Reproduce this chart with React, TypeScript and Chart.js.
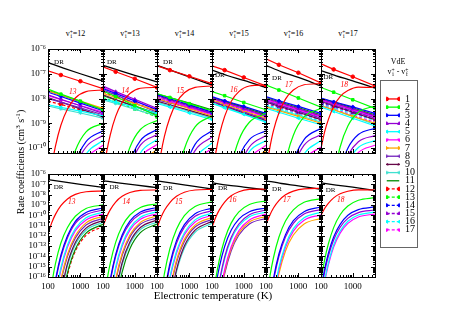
import React, { useEffect, useRef } from 'react';
import { Chart, registerables } from 'chart.js';

Chart.register(...registerables);

const FONT = "'Liberation Serif', 'Times New Roman', Times, serif";

// ---------- data ----------
const temperatureDR = [100, 300, 1000, 5000];
const temperatureVdE = [100, 250, 1000, 5000];
const temperatureVE = [100, 130, 170, 250, 400, 700, 1500, 5000];
const initialLevels = [12, 13, 14, 15, 16, 17];
const excitedLabels = ['13', '14', '15', '16', '17', '18'];
const legendLabels = ['1', '2', '3', '4', '5', '6', '7', '8', '9', '10', '11', '12', '13', '14', '15', '16', '17'];
const xTickValues = [100, 1000];
const xMinorTicks = [200, 300, 400, 500, 600, 700, 800, 900, 2000, 3000, 4000];
const yTicksTop = [1e-10, 1e-9, 1e-8, 1e-7, 1e-6];
const yTicksBottom = [1e-16, 1e-15, 1e-14, 1e-13, 1e-12, 1e-11, 1e-10, 1e-9, 1e-8, 1e-7, 1e-6];

const drV12 = [2.8e-7, 1.7e-7, 1.0e-7, 5.0e-8];
const drV13 = [2.2e-7, 1.4e-7, 8.7e-8, 4.7e-8];
const drV14 = [2.2e-7, 1.3e-7, 7.4e-8, 3.5e-8];
const drV15 = [1.4e-7, 8.5e-8, 5.4e-8, 2.8e-8];
const drV16 = [2.2e-7, 1.2e-7, 7.1e-8, 3.2e-8];
const drV17 = [1.35e-7, 8.3e-8, 5.2e-8, 2.6e-8];

const vdeV12 = [
  [1.3e-7, 8.9e-8, 5.0e-8, 2.5e-8],
  [2.4e-8, 1.5e-8, 7.8e-9, 3.5e-9],
  [1.8e-8, 1.2e-8, 6.5e-9, 3.2e-9],
  [1.4e-8, 9.3e-9, 5.1e-9, 2.5e-9],
  [5.6e-9, 4.4e-9, 3.1e-9, 2.0e-9],
  [1.3e-8, 8.9e-9, 5.2e-9, 2.8e-9],
  [2.0e-8, 1.4e-8, 7.8e-9, 4.0e-9],
  [1.0e-8, 7.1e-9, 4.2e-9, 2.2e-9],
  [1.1e-8, 7.2e-9, 3.8e-9, 1.8e-9],
  [5.0e-9, 3.8e-9, 2.6e-9, 1.6e-9],
  [2.1e-8, 1.4e-8, 7.4e-9, 3.5e-9],
  [7.9e-9, 5.8e-9, 3.5e-9, 2.0e-9],
];
const vdeV13 = [
  [1.9e-7, 1.2e-7, 6.3e-8, 2.8e-8],
  [2.0e-8, 1.2e-8, 5.1e-9, 2.0e-9],
  [2.5e-8, 1.6e-8, 7.9e-9, 3.5e-9],
  [3.2e-8, 1.9e-8, 9.3e-9, 4.0e-9],
  [1.0e-8, 7.2e-9, 4.5e-9, 2.5e-9],
  [2.8e-8, 1.7e-8, 8.3e-9, 3.5e-9],
  [1.6e-8, 1.1e-8, 6.2e-9, 3.2e-9],
  [2.2e-8, 1.4e-8, 6.6e-9, 2.8e-9],
  [1.4e-8, 9.1e-9, 4.8e-9, 2.2e-9],
  [8.9e-9, 6.3e-9, 3.7e-9, 2.0e-9],
  [1.3e-8, 8.7e-9, 4.9e-9, 2.5e-9],
  [1.8e-8, 1.2e-8, 6.5e-9, 3.2e-9],
  [1.1e-8, 7.2e-9, 3.8e-9, 1.8e-9],
];
const vdeV14 = [
  [2.1e-7, 1.4e-7, 7.9e-8, 4.0e-8],
  [1.6e-8, 1.1e-8, 6.2e-9, 3.2e-9],
  [1.4e-8, 9.8e-9, 5.5e-9, 2.8e-9],
  [1.3e-8, 8.7e-9, 4.9e-9, 2.5e-9],
  [6.3e-9, 4.5e-9, 2.6e-9, 1.4e-9],
  [1.1e-8, 7.8e-9, 4.4e-9, 2.2e-9],
  [1.0e-8, 6.9e-9, 3.9e-9, 2.0e-9],
  [8.9e-9, 6.6e-9, 4.3e-9, 2.5e-9],
  [7.9e-9, 5.6e-9, 3.3e-9, 1.8e-9],
  [7.1e-9, 5.0e-9, 3.0e-9, 1.6e-9],
  [1.5e-8, 1.1e-8, 6.5e-9, 3.5e-9],
  [1.3e-8, 9.1e-9, 5.4e-9, 2.8e-9],
  [1.2e-8, 8.7e-9, 5.5e-9, 3.2e-9],
  [1.0e-8, 7.1e-9, 4.4e-9, 2.4e-9],
];
const vdeV15 = [
  [2.1e-7, 1.4e-7, 7.1e-8, 3.2e-8],
  [1.9e-8, 1.3e-8, 6.9e-9, 3.5e-9],
  [1.2e-8, 8.1e-9, 4.8e-9, 2.5e-9],
  [1.05e-8, 7.1e-9, 4.0e-9, 2.0e-9],
  [6.3e-9, 4.2e-9, 2.3e-9, 1.1e-9],
  [1.0e-8, 6.6e-9, 3.6e-9, 1.8e-9],
  [8.9e-9, 5.9e-9, 3.2e-9, 1.6e-9],
  [7.9e-9, 5.2e-9, 2.9e-9, 1.4e-9],
  [7.6e-9, 5.0e-9, 2.6e-9, 1.3e-9],
  [6.6e-9, 4.5e-9, 2.4e-9, 1.2e-9],
  [1.1e-8, 7.8e-9, 4.4e-9, 2.2e-9],
  [1.1e-8, 7.2e-9, 4.1e-9, 2.1e-9],
  [9.5e-9, 6.9e-9, 4.3e-9, 2.4e-9],
  [8.5e-9, 6.0e-9, 3.5e-9, 1.9e-9],
  [7.1e-9, 4.9e-9, 2.9e-9, 1.5e-9],
];
const vdeV16 = [
  [4.0e-7, 2.3e-7, 1.1e-7, 4.3e-8],
  [3.5e-8, 2.2e-8, 1.05e-8, 4.5e-9],
  [1.2e-8, 8.1e-9, 4.8e-9, 2.5e-9],
  [1.0e-8, 6.9e-9, 3.9e-9, 2.0e-9],
  [4.0e-9, 2.8e-9, 1.6e-9, 8.7e-10],
  [8.9e-9, 6.2e-9, 3.5e-9, 1.8e-9],
  [4.5e-9, 3.2e-9, 1.9e-9, 1.0e-9],
  [7.9e-9, 5.5e-9, 3.1e-9, 1.6e-9],
  [7.1e-9, 4.9e-9, 2.8e-9, 1.4e-9],
  [5.0e-9, 3.5e-9, 2.1e-9, 1.1e-9],
  [1.1e-8, 7.4e-9, 4.3e-9, 2.2e-9],
  [9.5e-9, 6.6e-9, 3.7e-9, 1.9e-9],
  [8.3e-9, 6.0e-9, 3.7e-9, 2.1e-9],
  [7.6e-9, 5.4e-9, 3.1e-9, 1.7e-9],
  [6.3e-9, 4.5e-9, 2.6e-9, 1.4e-9],
  [5.6e-9, 3.9e-9, 2.3e-9, 1.2e-9],
];
const vdeV17 = [
  [2.5e-7, 1.5e-7, 7.6e-8, 3.2e-8],
  [2.8e-8, 1.8e-8, 8.9e-9, 4.0e-9],
  [1.05e-8, 7.4e-9, 4.6e-9, 2.5e-9],
  [9.5e-9, 6.6e-9, 3.8e-9, 2.0e-9],
  [4.5e-9, 3.0e-9, 1.6e-9, 7.9e-10],
  [8.9e-9, 6.2e-9, 3.5e-9, 1.8e-9],
  [5.0e-9, 3.5e-9, 1.9e-9, 1.0e-9],
  [8.3e-9, 5.6e-9, 3.2e-9, 1.6e-9],
  [7.6e-9, 5.1e-9, 2.8e-9, 1.4e-9],
  [5.2e-9, 3.5e-9, 1.9e-9, 8.9e-10],
  [1.0e-8, 7.1e-9, 4.2e-9, 2.2e-9],
  [9.1e-9, 6.5e-9, 3.7e-9, 2.0e-9],
  [7.9e-9, 5.8e-9, 3.6e-9, 2.1e-9],
  [7.2e-9, 5.1e-9, 3.0e-9, 1.7e-9],
  [6.6e-9, 4.7e-9, 2.7e-9, 1.4e-9],
  [6.0e-9, 4.2e-9, 2.4e-9, 1.3e-9],
  [5.5e-9, 3.8e-9, 2.1e-9, 1.1e-9],
];

const veV12 = [
  [1.5e-12, 1.8e-11, 1.2e-10, 8.3e-10, 3.8e-9, 1.05e-8, 1.9e-8, 2.2e-8],
  [7.9e-20, 2.0e-17, 2.0e-15, 2.0e-13, 6.3e-12, 7.9e-11, 4.5e-10, 1.0e-9],
  [null, 2.5e-19, 5.0e-17, 1.3e-14, 1.0e-12, 2.5e-11, 1.8e-10, 5.0e-10],
  [null, 1.6e-19, 3.2e-17, 7.9e-15, 6.3e-13, 1.6e-11, 1.1e-10, 3.2e-10],
  [null, null, 1.3e-18, 7.9e-16, 1.3e-13, 5.0e-12, 5.6e-11, 2.0e-10],
  [null, null, 7.9e-19, 5.0e-16, 7.9e-14, 3.2e-12, 3.5e-11, 1.3e-10],
  [null, null, 3.2e-20, 5.0e-17, 1.6e-14, 1.0e-12, 1.8e-11, 7.9e-11],
  [null, null, 2.0e-20, 3.2e-17, 1.0e-14, 6.3e-13, 1.1e-11, 5.0e-11],
  [null, null, null, 3.2e-18, 2.0e-15, 2.2e-13, 5.6e-12, 3.2e-11],
  [null, null, null, 2.0e-18, 1.3e-15, 1.4e-13, 3.5e-12, 2.0e-11],
  [null, null, null, 1.6e-19, 2.5e-16, 5.0e-14, 1.8e-12, 1.3e-11],
  [null, null, null, 1.0e-19, 1.6e-16, 3.2e-14, 1.1e-12, 7.9e-12],
];
const veV13 = [
  [8.3e-12, 6.8e-11, 3.5e-10, 1.9e-9, 6.8e-9, 1.6e-8, 2.6e-8, 2.8e-8],
  [9.3e-20, 2.8e-17, 2.3e-15, 2.3e-13, 8.5e-12, 1.05e-10, 5.6e-10, 1.3e-9],
  [null, 2.9e-19, 6.2e-17, 1.5e-14, 1.2e-12, 2.6e-11, 2.0e-10, 5.6e-10],
  [null, 1.8e-19, 3.9e-17, 9.8e-15, 7.6e-13, 1.6e-11, 1.3e-10, 3.5e-10],
  [null, null, 1.4e-18, 9.1e-16, 1.5e-13, 5.5e-12, 6.3e-11, 2.2e-10],
  [null, null, 8.9e-19, 5.8e-16, 9.5e-14, 3.5e-12, 4.0e-11, 1.4e-10],
  [null, null, 3.3e-20, 5.5e-17, 1.9e-14, 1.2e-12, 2.0e-11, 8.9e-11],
  [null, null, 2.1e-20, 3.5e-17, 1.2e-14, 7.4e-13, 1.3e-11, 5.6e-11],
  [null, null, null, 3.2e-18, 2.4e-15, 2.5e-13, 6.3e-12, 3.5e-11],
  [null, null, null, 2.0e-18, 1.5e-15, 1.6e-13, 4.0e-12, 2.2e-11],
  [null, null, null, 1.9e-19, 3.0e-16, 5.5e-14, 2.0e-12, 1.4e-11],
];
const veV14 = [
  [5.6e-12, 5.2e-11, 3.0e-10, 1.7e-9, 6.8e-9, 1.7e-8, 2.8e-8, 3.2e-8],
  [null, 1.0e-18, 2.2e-16, 5.5e-14, 4.3e-12, 9.1e-11, 7.1e-10, 2.0e-9],
  [null, null, 3.2e-18, 2.0e-15, 3.4e-13, 1.2e-11, 1.4e-10, 5.0e-10],
  [null, null, 1.8e-18, 1.1e-15, 1.9e-13, 6.9e-12, 7.9e-11, 2.8e-10],
  [null, null, 6.3e-20, 1.0e-16, 3.2e-14, 2.0e-12, 3.5e-11, 1.6e-10],
  [null, null, 4.0e-20, 6.3e-17, 2.0e-14, 1.3e-12, 2.2e-11, 1.0e-10],
  [null, null, null, 6.3e-18, 4.0e-15, 4.5e-13, 1.1e-11, 6.3e-11],
  [null, null, null, 4.0e-18, 2.5e-15, 2.8e-13, 7.1e-12, 4.0e-11],
  [null, null, null, 3.2e-19, 5.0e-16, 1.0e-13, 3.5e-12, 2.5e-11],
  [null, null, null, 2.0e-19, 3.2e-16, 6.3e-14, 2.2e-12, 1.6e-11],
];
const veV15 = [
  [6.3e-12, 5.9e-11, 3.3e-10, 1.9e-9, 7.6e-9, 1.9e-8, 3.2e-8, 3.5e-8],
  [1.9e-19, 5.5e-17, 4.7e-15, 4.6e-13, 1.7e-11, 2.1e-10, 1.1e-9, 2.5e-9],
  [3.7e-20, 1.1e-17, 9.3e-16, 9.1e-14, 3.4e-12, 4.2e-11, 2.2e-10, 5.0e-10],
  [null, 1.6e-19, 3.5e-17, 8.7e-15, 6.8e-13, 1.4e-11, 1.1e-10, 3.2e-10],
  [null, 1.0e-19, 2.2e-17, 5.5e-15, 4.3e-13, 9.1e-12, 7.1e-11, 2.0e-10],
  [null, null, 7.9e-19, 5.1e-16, 8.5e-14, 3.1e-12, 3.5e-11, 1.3e-10],
  [null, null, 5.0e-19, 3.2e-16, 5.4e-14, 1.9e-12, 2.2e-11, 7.9e-11],
  [null, null, 3.2e-19, 2.0e-16, 3.4e-14, 1.2e-12, 1.4e-11, 5.0e-11],
];
const veV16 = [
  [1.2e-11, 9.5e-11, 5.0e-10, 2.6e-9, 9.5e-9, 2.2e-8, 3.6e-8, 4.0e-8],
  [3.0e-19, 8.7e-17, 7.4e-15, 7.2e-13, 2.7e-11, 3.3e-10, 1.8e-9, 4.0e-9],
  [null, 3.2e-19, 6.9e-17, 1.7e-14, 1.3e-12, 2.9e-11, 2.2e-10, 6.3e-10],
  [null, 1.8e-19, 3.9e-17, 9.8e-15, 7.6e-13, 1.6e-11, 1.3e-10, 3.5e-10],
  [null, null, 1.3e-18, 8.1e-16, 1.3e-13, 4.9e-12, 5.6e-11, 2.0e-10],
  [null, null, 7.1e-19, 4.6e-16, 7.6e-14, 2.8e-12, 3.2e-11, 1.1e-10],
  [null, null, 3.2e-19, 2.0e-16, 3.4e-14, 1.2e-12, 1.4e-11, 5.0e-11],
];
const veV17 = [
  [9.5e-11, 4.5e-10, 1.4e-9, 4.8e-9, 1.2e-8, 2.1e-8, 2.9e-8, 2.8e-8],
  [5.0e-17, 4.7e-15, 1.6e-13, 6.2e-12, 1.1e-10, 7.8e-10, 2.8e-9, 5.0e-9],
  [6.3e-18, 5.9e-16, 2.0e-14, 7.8e-13, 1.3e-11, 9.8e-11, 3.5e-10, 6.3e-10],
  [3.2e-18, 3.0e-16, 1.0e-14, 3.9e-13, 6.8e-12, 4.9e-11, 1.8e-10, 3.2e-10],
  [3.2e-19, 4.7e-17, 2.2e-15, 1.3e-13, 2.9e-12, 2.6e-11, 1.05e-10, 2.0e-10],
  [2.0e-19, 3.0e-17, 1.4e-15, 7.9e-14, 1.8e-12, 1.6e-11, 6.6e-11, 1.3e-10],
];

const drRates = [drV12, drV13, drV14, drV15, drV16, drV17];
const vdeRates = [vdeV12, vdeV13, vdeV14, vdeV15, vdeV16, vdeV17];
const veRates = [veV12, veV13, veV14, veV15, veV16, veV17];

// annotation anchors (data coordinates: temperature, rate)
const drLabelTop = [[154, 3.0e-7], [133, 3.0e-7], [154, 3.0e-7], [124, 8.5e-8], [154, 6.8e-8], [120, 7.4e-8]];
const drLabelBottom = [[150, 5.5e-8], [160, 5.5e-8], [154, 4.0e-8], [154, 4.4e-8], [154, 3.7e-8], [140, 2.8e-8]];
const numLabelTop = [[580, 1.9e-8], [502, 2.1e-8], [520, 2.1e-8], [484, 2.3e-8], [502, 3.4e-8], [540, 3.5e-8]];
const numLabelBottom = [[540, 1.7e-9], [540, 1.7e-9], [470, 1.9e-9], [450, 2.7e-9], [435, 2.7e-9], [420, 3.0e-9]];

// ---------- styles ----------
const seriesColors = ['#ff0000', '#00ff00', '#0000ff', '#9400d3', '#00ffff', '#ff00ff', '#ffa500', '#7221bc', '#670748', '#40e0d0', '#008b00',
  '#ff0000', '#00ff00', '#0000ff', '#9400d3', '#00ffff', '#ff00ff'];
const seriesMarkers: any[] = ['circle', 'rect', 'rectRot', 'triangle', 'triangle', 'triangle', 'triangle', 'cross', 'crossRot', 'star', false,
  'circle', 'rect', 'rectRot', 'triangle', 'triangle', 'triangle'];
const seriesRotation = [0, 0, 0, 0, 270, 180, 90, 0, 0, 0, 0, 0, 0, 0, 0, 270, 180];

const PANEL_LEFT = [48, 103, 157, 212, 266, 321];
const PANEL_RIGHT = [103, 157, 212, 266, 321, 375];
const ROW_TOP = [49, 174];
const ROW_H = [104, 103];
const Y_MIN = [6.3e-11, 1e-16];

const SUP: Record<string, string> = { '-': '\u207B', '0': '\u2070', '1': '\u00B9', '2': '\u00B2', '3': '\u00B3', '4': '\u2074', '5': '\u2075', '6': '\u2076', '7': '\u2077', '8': '\u2078', '9': '\u2079' };
const powLabel = (v: number) => '10' + String(Math.round(Math.log10(v))).split('').map((c) => SUP[c]).join('');

const framePlugin = {
  id: 'frame',
  afterDatasetsDraw(chart: any, _args: any, opts: any) {
    const { ctx, chartArea: a, scales } = chart;
    const xs = scales.x;
    const ys = scales.y;
    const L = a.left, R = a.right, T = a.top, B = a.bottom;
    ctx.save();
    ctx.strokeStyle = '#000';
    ctx.lineWidth = 1;
    ctx.beginPath();
    const xt = (v: number, len: number) => {
      const p = Math.round(xs.getPixelForValue(v)) + 0.5;
      ctx.moveTo(p, B); ctx.lineTo(p, B - len);
      ctx.moveTo(p, T); ctx.lineTo(p, T + len);
    };
    const yt = (v: number, len: number) => {
      const p = Math.round(ys.getPixelForValue(v)) + 0.5;
      if (p < T || p > B + 1) return;
      ctx.moveTo(L, p); ctx.lineTo(L + len, p);
      ctx.moveTo(R, p); ctx.lineTo(R - len, p);
    };
    xTickValues.forEach((v) => xt(v, 4));
    xMinorTicks.forEach((v) => xt(v, 2));
    const majors: number[] = opts.yMajor;
    majors.forEach((v) => yt(v, 4));
    for (let e = -17; e <= -7; e++) {
      for (let m = 2; m <= 9; m++) {
        const v = m * Math.pow(10, e);
        if (v > ys.min && v < ys.max) yt(v, 2);
      }
    }
    ctx.stroke();
    ctx.strokeRect(L + 0.5, T + 0.5, R - L, B - T);
    ctx.fillStyle = '#000';
    ctx.font = `7px ${FONT}`;
    ctx.textAlign = 'left';
    ctx.textBaseline = 'middle';
    ctx.fillText('DR', xs.getPixelForValue(opts.dr[0]), ys.getPixelForValue(opts.dr[1]));
    ctx.fillStyle = '#ff0000';
    ctx.font = `italic 7.5px ${FONT}`;
    ctx.textAlign = 'center';
    ctx.fillText(opts.text, xs.getPixelForValue(opts.num[0]), ys.getPixelForValue(opts.num[1]));
    ctx.restore();
  },
};

function Panel({ col, row }: { col: number; row: number }) {
  const ref = useRef<HTMLCanvasElement>(null);
  const w = PANEL_RIGHT[col] - PANEL_LEFT[col];
  const h = ROW_H[row];
  const padL = col === 0 ? 48 : 12;
  const padR = 12;
  const padT = 8;
  const padB = row === 1 ? 18 : 8;
  const cw = padL + w + padR;
  const ch = padT + h + padB;
  useEffect(() => {
    const datasets: any[] = [];
    veRates[col].forEach((vals, k) => {
      datasets.push({
        data: temperatureVE.map((t, i) => ({ x: t, y: vals[i] })),
        borderColor: seriesColors[k],
        borderWidth: 1.2,
        borderDash: k >= 11 ? [3, 2] : [],
        pointRadius: 0,
        cubicInterpolationMode: 'monotone',
        fill: false,
      });
    });
    if (row === 0) {
      vdeRates[col].forEach((vals, k) => {
        datasets.push({
          data: temperatureVdE.map((t, i) => ({ x: t, y: vals[i] })),
          borderColor: seriesColors[k],
          backgroundColor: seriesColors[k],
          borderWidth: 1.2,
          borderDash: k >= 11 ? [3, 2] : [],
          pointStyle: seriesMarkers[k] || 'circle',
          pointRotation: seriesRotation[k],
          pointRadius: seriesMarkers[k] ? [0, 1.8, 1.8, 1.8] : 0,
          pointBorderWidth: 1,
          pointBorderColor: seriesColors[k],
          pointBackgroundColor: seriesColors[k],
          tension: 0,
          fill: false,
        });
      });
    }
    datasets.push({
      data: temperatureDR.map((t, i) => ({ x: t, y: drRates[col][i] })),
      borderColor: '#000',
      borderWidth: 1.3,
      pointRadius: 0,
      cubicInterpolationMode: 'monotone',
      fill: false,
    });
    const yMajor = row === 0 ? yTicksTop : yTicksBottom;
    const chart = new Chart(ref.current as HTMLCanvasElement, {
      type: 'line',
      data: { datasets },
      options: {
        animation: false,
        responsive: false,
        events: [],
        layout: { padding: { left: col === 0 ? 0 : padL, right: padR, top: padT, bottom: row === 1 ? 0 : padB } },
        plugins: {
          legend: { display: false },
          tooltip: { enabled: false },
          frame: {
            yMajor,
            dr: row === 0 ? drLabelTop[col] : drLabelBottom[col],
            num: row === 0 ? numLabelTop[col] : numLabelBottom[col],
            text: excitedLabels[col],
          },
        },
        scales: {
          x: {
            type: 'logarithmic',
            min: 100,
            max: 5000,
            display: row === 1,
            afterBuildTicks: (ax: any) => { ax.ticks = xTickValues.map((v) => ({ value: v })); },
            afterFit: row === 1 ? (s: any) => { s.height = 18; } : undefined,
            grid: { display: false, drawTicks: false },
            border: { display: false },
            ticks: { autoSkip: false, maxRotation: 0, padding: 4, color: '#000', font: { family: FONT, size: 9 }, callback: (v: any) => String(v) },
          },
          y: {
            type: 'logarithmic',
            min: Y_MIN[row],
            max: 1e-6,
            display: col === 0,
            afterBuildTicks: (ax: any) => { ax.ticks = yMajor.map((v) => ({ value: v })); },
            afterFit: col === 0 ? (s: any) => { s.width = 48; } : undefined,
            grid: { display: false, drawTicks: false },
            border: { display: false },
            ticks: { autoSkip: false, padding: 2, color: '#000', font: { family: FONT, size: 9 }, callback: (v: any) => powLabel(v) },
          },
        },
      } as any,
      plugins: [framePlugin as any],
    });
    return () => chart.destroy();
  }, []);
  return (
    <canvas
      ref={ref}
      width={cw}
      height={ch}
      style={{ position: 'absolute', left: PANEL_LEFT[col] - padL, top: ROW_TOP[row] - padT, width: cw, height: ch }}
    />
  );
}

function LegendBox() {
  const ref = useRef<HTMLCanvasElement>(null);
  useEffect(() => {
    const datasets = legendLabels.map((_, k) => ({
      data: [{ x: 0, y: k + 1 }, { x: 1, y: k + 1 }],
      borderColor: seriesColors[k],
      backgroundColor: seriesColors[k],
      borderWidth: 1.3,
      borderDash: k >= 11 ? [3, 2] : [],
      pointStyle: seriesMarkers[k] || 'circle',
      pointRotation: seriesRotation[k],
      pointRadius: seriesMarkers[k] ? 1.8 : 0,
      pointBorderWidth: 1,
      pointBorderColor: seriesColors[k],
      pointBackgroundColor: seriesColors[k],
    }));
    const chart = new Chart(ref.current as HTMLCanvasElement, {
      type: 'line',
      data: { datasets },
      options: {
        animation: false,
        responsive: false,
        events: [],
        layout: { padding: { left: 2, right: 0, top: 0, bottom: 0 } },
        plugins: { legend: { display: false }, tooltip: { enabled: false } },
        scales: {
          x: { type: 'linear', min: -0.06, max: 1.06, display: false },
          y: {
            type: 'linear',
            min: 0.15,
            max: 17.75,
            reverse: true,
            position: 'right',
            afterBuildTicks: (ax: any) => { ax.ticks = legendLabels.map((_, k) => ({ value: k + 1 })); },
            afterFit: (s: any) => { s.width = 17; },
            grid: { display: false, drawTicks: false },
            border: { display: false },
            ticks: { autoSkip: false, padding: 5, color: '#000', font: { family: FONT, size: 10 }, callback: (v: any) => legendLabels[Math.round(v) - 1] },
          },
        },
      } as any,
    });
    return () => chart.destroy();
  }, []);
  return (
    <div style={{ position: 'absolute', left: 380, top: 80, width: 36, height: 166, border: '1px solid #666', background: '#fff' }}>
      <canvas ref={ref} width={36} height={166} style={{ display: 'block', width: 36, height: 166 }} />
    </div>
  );
}

function VSym({ sub }: { sub: string }) {
  return (
    <span>
      v
      <span style={{ display: 'inline-flex', flexDirection: 'column', verticalAlign: 'middle', fontSize: '0.7em', lineHeight: '0.8em' }}>
        <span>+</span>
        <span>{sub}</span>
      </span>
    </span>
  );
}

function LevelTitle({ level, center }: { level: number; center: number }) {
  return (
    <div style={{ position: 'absolute', left: center - 25, width: 50, top: 28, textAlign: 'center', fontSize: 8, lineHeight: '12px', whiteSpace: 'nowrap' }}>
      <VSym sub="i" />={level}
    </div>
  );
}

export default function App() {
  const supStyle: React.CSSProperties = { fontSize: 7, verticalAlign: 'super', lineHeight: 0 };
  return (
    <div style={{ position: 'absolute', left: 0, top: 0, width: 451, height: 319, background: '#fff', overflow: 'hidden', fontFamily: FONT, color: '#000' }}>
      {initialLevels.map((lv, j) => (
        <LevelTitle key={'t' + j} level={lv} center={(PANEL_LEFT[j] + PANEL_RIGHT[j]) / 2} />
      ))}
      {[0, 1].map((r) => PANEL_LEFT.map((_, j) => <Panel key={r + '-' + j} col={j} row={r} />))}
      <div style={{ position: 'absolute', left: -59, top: 155, width: 160, height: 14, lineHeight: '14px', transform: 'rotate(-90deg)', textAlign: 'center', fontSize: 10, whiteSpace: 'nowrap' }}>
        Rate coefficients (cm<span style={supStyle}>3</span> s<span style={supStyle}>-1</span>)
      </div>
      <div style={{ position: 'absolute', left: 133, top: 288, width: 160, lineHeight: '14px', textAlign: 'center', fontSize: 11, whiteSpace: 'nowrap' }}>
        Electronic temperature (K)
      </div>
      <div style={{ position: 'absolute', left: 368, top: 56, width: 60, lineHeight: '11px', textAlign: 'center', fontSize: 8 }}>VdE</div>
      <div style={{ position: 'absolute', left: 368, top: 66, width: 60, lineHeight: '12px', textAlign: 'center', fontSize: 8, whiteSpace: 'nowrap' }}>
        <VSym sub="i" /> - <VSym sub="f" />
      </div>
      <LegendBox />
    </div>
  );
}
